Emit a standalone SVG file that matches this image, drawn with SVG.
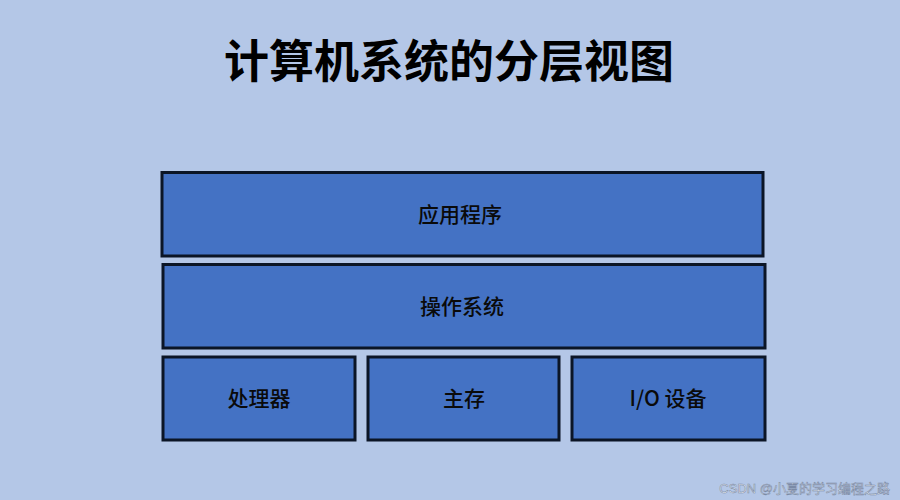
<svg xmlns="http://www.w3.org/2000/svg" width="900" height="500" viewBox="0 0 900 500">
<style>
.box{fill:#4472c4;stroke:#0b1526;stroke-width:3}
.lbl{font-family:"Noto Sans CJK SC",sans-serif;font-size:21px;font-weight:500;fill:#0a0a0a;text-anchor:middle}
.title{font-family:"Noto Sans CJK SC",sans-serif;font-size:45px;font-weight:bold;fill:#000;text-anchor:middle}
</style>
<rect x="0" y="0" width="900" height="500" fill="#b4c7e7"/>
<text class="title" x="449" y="78">计算机系统的分层视图</text>
<g id="app"><rect class="box" x="162" y="172.5" width="601" height="83.5"/><text class="lbl" x="460" y="222">应用程序</text></g>
<g id="os"><rect class="box" x="163" y="264.5" width="602" height="83.5"/><text class="lbl" x="462" y="314">操作系统</text></g>
<g id="cpu"><rect class="box" x="163" y="357" width="192" height="83"/><text class="lbl" x="259" y="406">处理器</text></g>
<g id="mem"><rect class="box" x="368" y="357" width="191" height="83"/><text class="lbl" x="464" y="406">主存</text></g>
<g id="io"><rect class="box" x="572" y="357" width="193" height="83"/><text class="lbl" x="668" y="406">I/O 设备</text></g>
<g id="connectors"></g>
<text x="890" y="493" text-anchor="end" font-family="Liberation Sans,'Noto Sans CJK SC',sans-serif" font-size="13" fill="#ffffff" stroke="#7a8aa6" stroke-width="0.6">CSDN @小夏的学习编程之路</text>
</svg>
